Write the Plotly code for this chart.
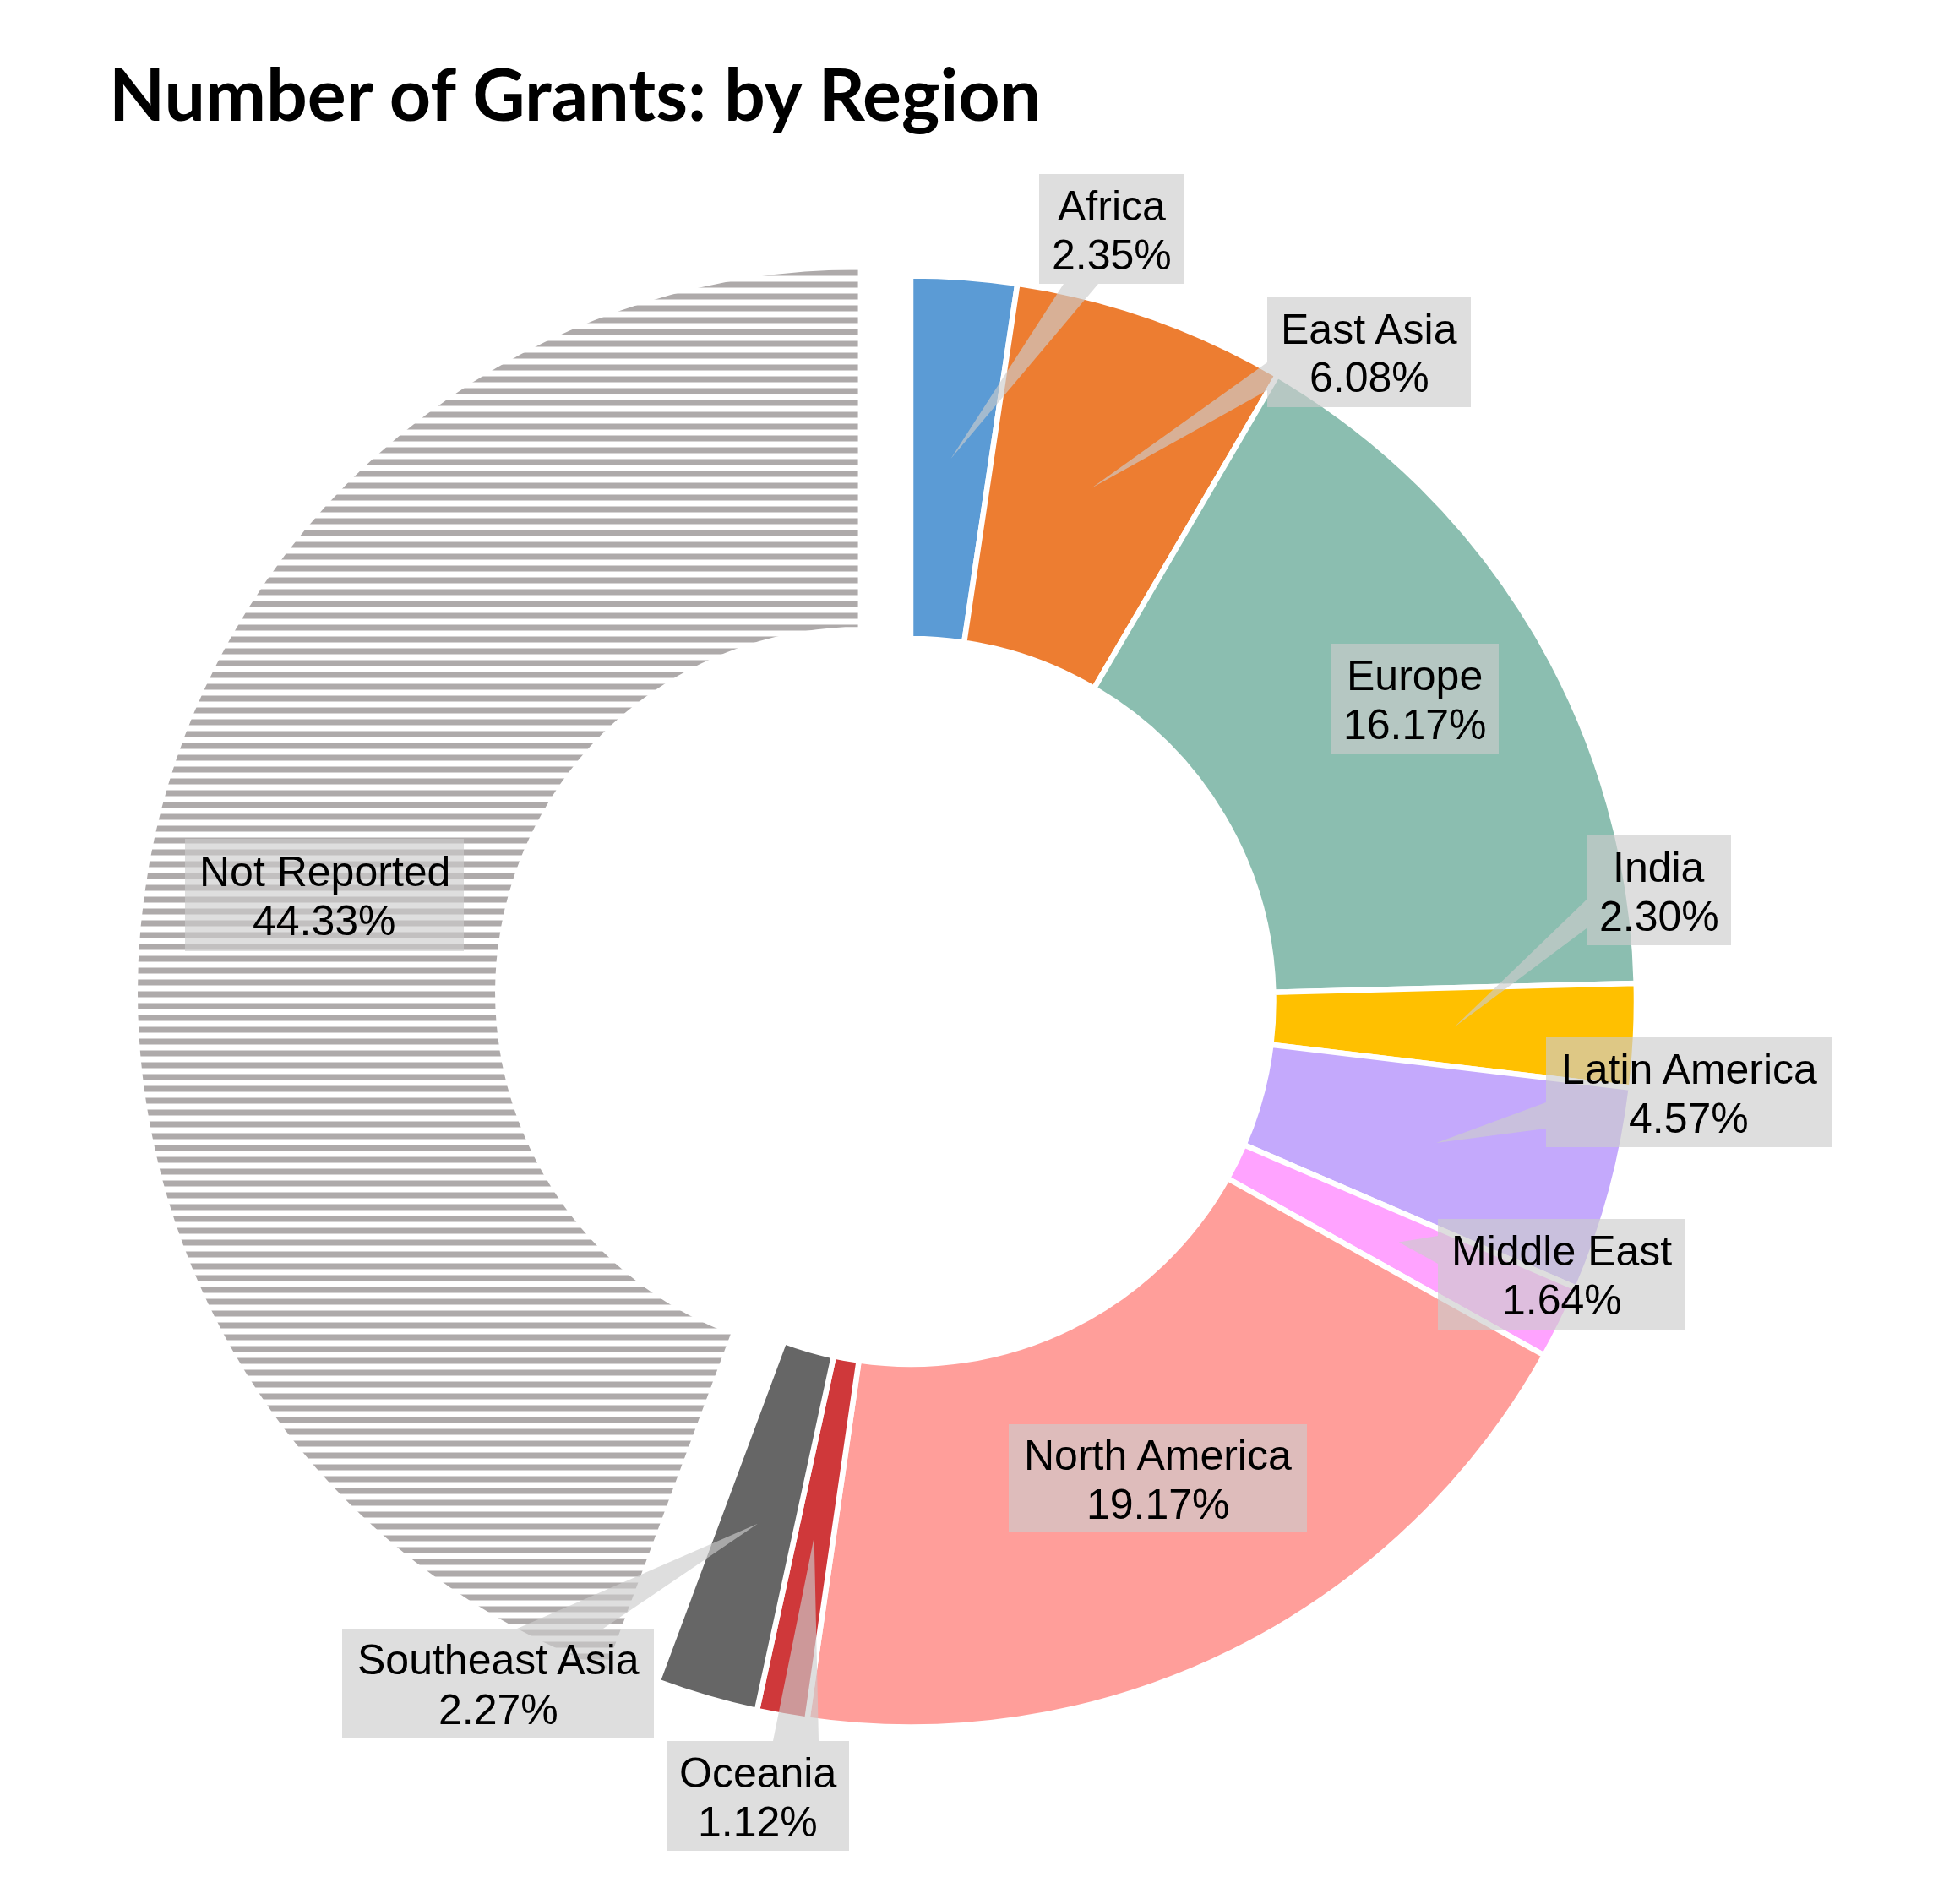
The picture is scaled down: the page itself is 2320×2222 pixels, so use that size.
import math
import plotly.graph_objects as go

# Data
regions = ["Africa", "East Asia", "Europe", "India", "Latin America", "Middle East",
           "North America", "Oceania", "Southeast Asia", "Not Reported"]
shares = [2.35, 6.08, 16.17, 2.30, 4.57, 1.64, 19.17, 1.12, 2.27, 44.33]
title_text = "Number of Grants: by Region"

# Styles
slice_colors = ["#5B9BD5", "#ED7D31", "#8BBEB0", "#FFC000", "#C4A9FC", "#FFA3FF",
                "#FF9E9A", "#CF383A", "#666666", "#FFFFFF"]
hatch = ["", "", "", "", "", "", "", "", "", "-"]
pulls = [0, 0, 0, 0, 0, 0, 0, 0, 0, 0.07]

# The browser page has an 8 px body margin, so the figure spans 2304 x 2206
PAGE_MARGIN = 8
W, H = 2304, 2206
CX, CY, R = 1078, 1185.5, 859
PULL_MAX = 0.07
HALF = R * (1 + PULL_MAX)
FONT = "Liberation Sans"
FS = 50
LINE = 58
TEXT_DY = 1.5
BOX_FILL = "rgba(205,205,205,0.65)"

# Callout layout: box (x0, y0, x1, y1) in page px, and wedge base on the box edge
boxes = {
    "Africa": (1230, 206, 1401, 336, "bottom", 1259, 1300),
    "East Asia": (1500, 352, 1741, 482, "left", 429, 462),
    "Europe": (1575, 762, 1774, 892, None, 0, 0),
    "India": (1878, 989, 2049, 1119, "left", 1065, 1099),
    "Latin America": (1830, 1228, 2168, 1358, "left", 1305, 1336),
    "Middle East": (1702, 1443, 1995, 1574, "left", 1463, 1496),
    "North America": (1194, 1686, 1547, 1814, None, 0, 0),
    "Oceania": (789, 2061, 1005, 2191, "top", 915, 969),
    "Southeast Asia": (405, 1928, 774, 2058, "top", 612, 714),
    "Not Reported": (219, 993, 549, 1126, None, 0, 0),
}


def px(x):
    return (x - PAGE_MARGIN) / W


def py(y):
    return 1 - (y - PAGE_MARGIN) / H


def path(points):
    return "M " + " L ".join(f"{px(x):.5f},{py(y):.5f}" for x, y in points) + " Z"


total = sum(shares)
shapes, annotations = [], []
cum = 0
for name, val in zip(regions, shares):
    mid = (cum + val / 2) / total * 2 * math.pi
    cum += val
    tx = CX + 0.75 * R * math.sin(mid)
    ty = CY - 0.75 * R * math.cos(mid)
    x0, y0, x1, y1, side, a, b = boxes[name]
    if side == "bottom":
        pts = [(x0, y0), (x1, y0), (x1, y1), (b, y1), (tx, ty), (a, y1), (x0, y1)]
    elif side == "top":
        pts = [(x0, y0), (a, y0), (tx, ty), (b, y0), (x1, y0), (x1, y1), (x0, y1)]
    elif side == "left":
        pts = [(x0, y0), (x1, y0), (x1, y1), (x0, y1), (x0, b), (tx, ty), (x0, a)]
    else:
        pts = [(x0, y0), (x1, y0), (x1, y1), (x0, y1)]
    shapes.append(dict(type="path", xref="paper", yref="paper", path=path(pts),
                       fillcolor=BOX_FILL, line=dict(width=0), layer="above"))
    xc, yc = (x0 + x1) / 2, (y0 + y1) / 2 + TEXT_DY
    for text, yy in ((name, yc - LINE / 2), (f"{val:.2f}%", yc + LINE / 2)):
        annotations.append(dict(x=px(xc), y=py(yy), xref="paper", yref="paper", text=text,
                                showarrow=False, xanchor="center", yanchor="middle",
                                font=dict(family=FONT, size=FS, color="#000000")))

annotations.append(dict(x=px(127), y=py(110), xref="paper", yref="paper", text=f"<b>{title_text}</b>",
                        showarrow=False, xanchor="left", yanchor="middle",
                        font=dict(family="Lato", size=86, color="#000000")))

fig = go.Figure(go.Pie(
    labels=regions,
    values=shares,
    sort=False,
    direction="clockwise",
    rotation=0,
    hole=0.5,
    pull=pulls,
    textinfo="none",
    hoverinfo="label+percent",
    showlegend=False,
    marker=dict(colors=slice_colors,
                line=dict(color="#FFFFFF", width=6.5),
                pattern=dict(shape=hatch, fgcolor="#AEAAAA", size=14, solidity=0.5)),
    domain=dict(x=[px(CX - HALF), px(CX + HALF)],
                y=[py(CY + HALF), py(CY - HALF)]),
))
fig.update_layout(width=W, height=H, margin=dict(l=0, r=0, t=0, b=0),
                  paper_bgcolor="#FFFFFF", plot_bgcolor="#FFFFFF",
                  shapes=shapes, annotations=annotations)
fig.write_html("out.html")
